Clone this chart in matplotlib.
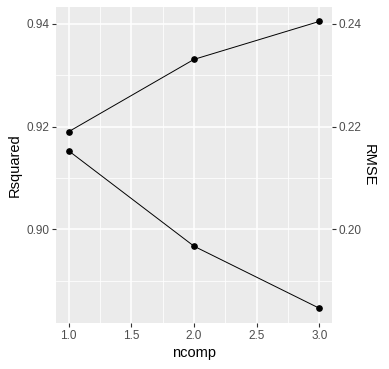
import matplotlib
matplotlib.use("Agg")
from matplotlib import pyplot as plt
from matplotlib.ticker import MultipleLocator

ncomp = [1, 2, 3]
rsquared = [0.9190, 0.9331, 0.9405]
rmse = [0.2153, 0.1967, 0.1846]

x_ticks = [1.0, 1.5, 2.0, 2.5, 3.0]
left_ticks = [0.90, 0.92, 0.94]
right_ticks = [0.20, 0.22, 0.24]

plt.rcParams['font.family'] = ['Liberation Sans', 'DejaVu Sans']

fig = plt.figure(figsize=(3.89, 3.69), dpi=100)
ax = fig.add_axes([0.144, 0.1255, 0.7095, 0.8555])
ax.set_facecolor('#EBEBEB')

# rsquared on the left axis, rmse mapped onto it (rmse = rsq - 0.70)
offset = 0.70
ax.plot(ncomp, rsquared, color='black', lw=0.7, marker='o', ms=3.8, zorder=3)
ax.plot(ncomp, [v + offset for v in rmse], color='black', lw=0.7, marker='o', ms=3.8, zorder=3)

lo, hi = 0.8818, 0.9433
ax.set_xlim(0.9, 3.1)
ax.set_ylim(lo, hi)
ax.set_xticks(x_ticks)
ax.set_xticklabels(['%.1f' % t for t in x_ticks])
ax.set_yticks(left_ticks)
ax.set_yticklabels(['%.2f' % t for t in left_ticks])
ax.xaxis.set_minor_locator(MultipleLocator(0.25))
ax.yaxis.set_minor_locator(MultipleLocator(0.01))

ax.grid(which='major', color='white', lw=1.1)
ax.grid(which='minor', color='white', lw=0.55)
ax.set_axisbelow(True)
for s in ax.spines.values():
    s.set_visible(False)
ax.tick_params(which='minor', length=0)
ax.tick_params(which='major', length=3, width=0.8, color='#333333',
               labelcolor='#4D4D4D', labelsize=8.5, pad=2)

ax2 = ax.twinx()
ax2.set_ylim(lo - offset, hi - offset)
ax2.set_yticks(right_ticks)
ax2.set_yticklabels(['%.2f' % t for t in right_ticks])
for s in ax2.spines.values():
    s.set_visible(False)
ax2.tick_params(which='major', length=3, width=0.8, color='#333333',
                labelcolor='#4D4D4D', labelsize=8.5, pad=2)

ax.set_xlabel('ncomp', fontsize=10.5, labelpad=3)
ax.set_ylabel('Rsquared', fontsize=10.5, labelpad=3)
ax2.set_ylabel('RMSE', fontsize=10.5, rotation=270, labelpad=10)

fig.savefig('out.png', dpi=100)
